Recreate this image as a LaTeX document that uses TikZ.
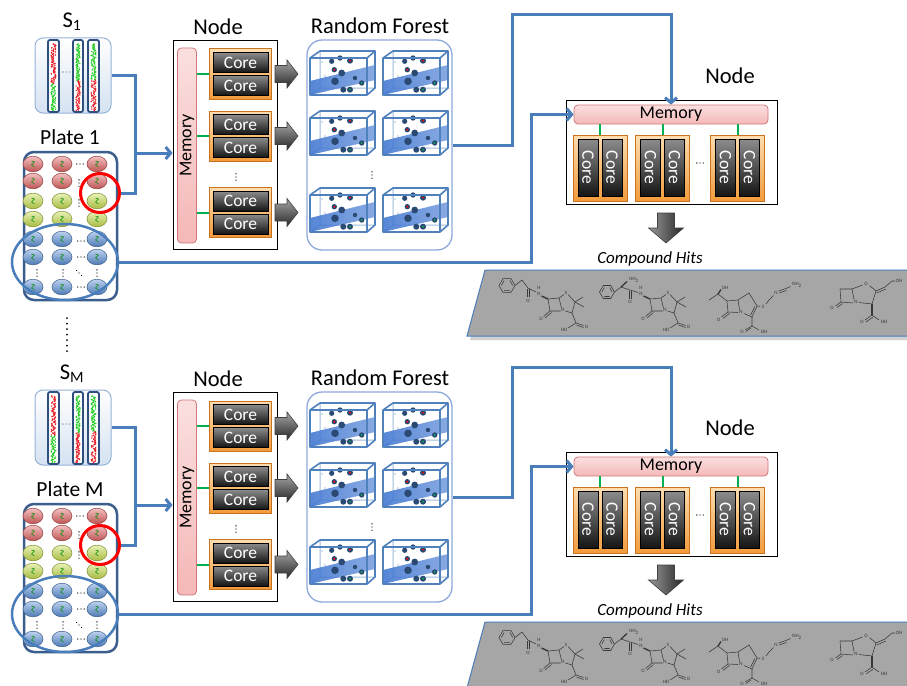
\documentclass[tikz,border=0pt]{standalone}
\usepackage{fontspec}
\setmainfont{Carlito}
\usetikzlibrary{shapes.geometric,arrows.meta}

\definecolor{linkblue}{HTML}{4A7EBB}
\definecolor{platecol}{HTML}{3B5E8C}
\definecolor{sfill}{HTML}{D5E2F2}
\definecolor{sdraw}{HTML}{95B3D7}
\definecolor{bardraw}{HTML}{2F4F7F}
\definecolor{dotred}{HTML}{E8202A}
\definecolor{dotgreen}{HTML}{22CC22}
\definecolor{memfill}{HTML}{F5B8B8}
\definecolor{memdraw}{HTML}{D07878}
\definecolor{orgtop}{HTML}{FCDDB0}
\definecolor{orgbot}{HTML}{F39B3C}
\definecolor{orgdraw}{HTML}{C8731F}
\definecolor{rfdraw}{HTML}{8EAADB}
\definecolor{cubeblue}{HTML}{4F81BD}
\definecolor{planeblue}{HTML}{3A72D0}
\definecolor{dotdark}{HTML}{2B4A73}
\definecolor{linkgreen}{HTML}{00B050}
\definecolor{stripgray}{HTML}{A6A6A6}
\definecolor{bondgray}{HTML}{383838}
\definecolor{wred}{HTML}{E06262}
\definecolor{wyel}{HTML}{C6DC4C}
\definecolor{wblu}{HTML}{5B8FD6}

\tikzset{
  lbl/.style={font=\fontsize{22.5}{24}\selectfont, inner sep=0},
  link/.style={draw=linkblue, line width=3pt},
  linkarrow/.style={link, -{Straight Barb[length=5pt,width=12pt]}},
  glink/.style={draw=linkgreen, line width=2pt},
  memnode/.style={draw=memdraw, line width=.8pt, top color=memfill!45!white, bottom color=memfill,
    rounded corners=4pt, font=\fontsize{18}{18}\selectfont, inner sep=0},
  cgroup/.style={draw=orgdraw, line width=1pt, top color=orgtop, bottom color=orgbot, inner sep=0},
  core/.style={draw=black, line width=.8pt, top color=black!45, bottom color=black!92, text=white,
    font=\fontsize{17.5}{17.5}\selectfont, minimum width=55, minimum height=20, inner sep=0},
  bond/.style={draw=bondgray, line width=.55pt},
  atom/.style={font=\fontsize{5}{5}\selectfont, text=bondgray, fill=stripgray, inner sep=.2pt},
  grayarrow/.pic={
    \shade[top color=black!35, bottom color=black!85, draw=black!75, line width=.6pt]
      (0,-8.5) -- (12,-8.5) -- (12,-14) -- (23,0) -- (12,14) -- (12,8.5) -- (0,8.5) -- cycle;},
  downarrow/.pic={
    \shade[left color=black!40, right color=black!85, draw=black!75, line width=.6pt]
      (-8.5,0) -- (8.5,0) -- (8.5,15) -- (17.5,15) -- (0,30) -- (-17.5,15) -- (-8.5,15) -- cycle;},
  rfcube/.pic={
    \begin{scope}[shift={(-31,-17)}]
      \draw[cubeblue!55, line width=1pt] (10,-7) rectangle (65,30) (0,37) -- (10,30);
      \fill[cubeblue!30] (15,18) circle (1.2pt) (60,10) circle (1.2pt) (12,4) circle (1.2pt) (61,17) circle (1.2pt);
      \shade[left color=planeblue, right color=planeblue!70, opacity=.85]
        (0,37) -- (0,23) -- (65,7) -- (65,22) -- cycle;
      \foreach \dx/\dy/\dr in {21.7/3.3/2.6, 30/0/2.7, 40/2.7/3, 24.3/11.7/2.7, 31.7/15/3.4,
          25/23.3/3.8, 33.3/31.7/3, 40/31.7/3, 51.7/25/2.7, 45/20/2.2}
        \fill[dotdark] (\dx,\dy) circle (\dr pt);
      \fill[red] (40,2.7) circle (1pt) (24.3,11.7) circle (1.1pt);
      \fill[linkgreen] (40,31.7) circle (1pt) (51.7,25) circle (1pt);
      \draw[cubeblue, line width=1.6pt, line join=round] (0,0) rectangle (57,37)
        (0,0) -- (10,-7) -- (65,-7) -- (65,30) -- (57,37) (57,0) -- (65,-7);
    \end{scope}}
}

% small dot groups
\newcommand\hdt[2]{\fill (#1-3.2,#2) circle (.7pt) (#1,#2) circle (.7pt) (#1+3.2,#2) circle (.7pt);}
\newcommand\vdt[2]{\fill (#1,#2-3.2) circle (.7pt) (#1,#2) circle (.7pt) (#1,#2+3.2) circle (.7pt);}
\newcommand\ddt[2]{\fill (#1-2.5,#2-2.5) circle (.6pt) (#1,#2) circle (.6pt) (#1+2.5,#2+2.5) circle (.6pt);}

% one glossy well of the plate
\newcommand\well[3]{%
  \shade[top color=#3!40!white, bottom color=#3!85!black, draw=#3!65!black, line width=.5pt]
    (#1,#2) ellipse [x radius=10pt, y radius=7.8pt];
  \draw[green!55!black, line width=.5pt] (#1-1.5,#2-3) -- (#1+1.5,#2-2) -- (#1-1.5,#2+1) -- (#1+1.5,#2+3);}

% hexagonal ring with alternating inner bonds
\newcommand\hexring[3]{%
  \draw[bond] (#1,#2) +(0:#3) -- +(60:#3) -- +(120:#3) -- +(180:#3) -- +(240:#3) -- +(300:#3) -- cycle;
  \draw[bond] (#1,#2) +(60:#3-2.3) -- +(120:#3-2.3) +(180:#3-2.3) -- +(240:#3-2.3) +(300:#3-2.3) -- +(0:#3-2.3);}

% penam core, from the amide N to the carboxyl group
\newcommand\penam[1]{%
  \node[atom] (#1n) at (539,293.5) {N};
  \node[atom] (#1h) at (539,288.3) {H};
  \draw[bond, line width=1.4pt] (541.5,296) -- (548,299);
  \draw[bond] (548,299) -- (559,298) -- (561.5,308) (560.5,311) -- (550,311) -- (548,299);
  \node[atom] (#1nr) at (563,310) {N};
  \draw[bond] (559,298) -- (564,294.5) (568,294.5) -- (575,302) -- (572,313) -- (565.5,311);
  \node[atom] (#1s) at (566,292.5) {S};
  \draw[bond] (575,302) -- (583,297) (575,302) -- (584,307);
  \draw[bond] (550,311) -- (543.5,316.5) (551.5,312.5) -- (545,318);
  \node[atom] (#1o) at (541,319) {O};
  \draw[bond] (572,313) -- (576,323) -- (583.5,325.5) (576.5,325) -- (583.5,327.5) (576,323) -- (568,328);
  \node[atom] (#1o2) at (586.5,327) {O};
  \node[atom] (#1ho) at (564,330) {HO};}

\newcommand\molecules[1]{%
  % benzylpenicillin
  \hexring{507}{285.5}{8}
  \draw[bond] (515,285.5) -- (522,280) -- (528,288) -- (536,292);
  \draw[bond] (527.2,288.5) -- (527.2,297) (529,289) -- (529,297);
  \node[atom] (ma#1) at (528,300.5) {O};
  \penam{pa#1}
  % ampicillin
  \hexring{607}{292}{7.5}
  \draw[bond] (614.5,292) -- (621,287) -- (630,290) -- (638,292.5);
  \draw[bond, line width=1.3pt] (621,287) -- (627,281.5);
  \node[atom] (mb#1) at (634,280) {NH\textsubscript{2}};
  \draw[bond] (629.2,290.5) -- (629.2,299) (631,291) -- (631,299);
  \node[atom] (mc#1) at (630,302) {O};
  \begin{scope}[shift={(102,0)}]\penam{pb#1}\end{scope}
  % imipenem
  \draw[bond] (709,300) -- (718,294) -- (727,301);
  \draw[bond, line width=1.3pt] (718,294) -- (721,289.5);
  \node[atom] (md#1) at (725,287.5) {OH};
  \draw[bond] (727,301) -- (738,300) -- (739.5,309.5) (738,312.5) -- (728,312) -- (727,301);
  \node[atom] (me#1) at (741,312) {N};
  \draw[bond] (728,312) -- (721.5,317) (729.5,313.5) -- (723,318.5);
  \node[atom] (mf#1) at (718.5,320) {O};
  \draw[bond] (738,300) -- (749,293) -- (757,306) -- (752,317) -- (744,313.5) (754.8,306.5) -- (750.6,315);
  \draw[bond] (757,306) -- (760,306.3) (766,304) -- (769,300) -- (773.5,295.5);
  \node[atom] (mg#1) at (763,306.5) {S};
  \node[atom] (mh#1) at (776,293) {N};
  \draw[bond] (778.5,291) -- (786,288.5) (779,293) -- (786.5,290.5) (786,288.5) -- (790.5,286.5);
  \node[atom] (mi#1) at (797,285) {NH\textsubscript{2}};
  \draw[bond] (752,317) -- (752,326) -- (745,330) (751,328) -- (745.8,331.6) (752,326) -- (759,330);
  \node[atom] (mj#1) at (742,332) {O};
  \node[atom] (mk#1) at (764,331.5) {OH};
  % clavulanic acid
  \draw[bond] (840,289) -- (852,289) -- (854,299.5) (853,303) -- (841,302) -- (840,289);
  \node[atom] (ml#1) at (856,302) {N};
  \draw[bond] (841,302) -- (835.5,306) (842.5,303.5) -- (837,307.5);
  \node[atom] (mm#1) at (832,308) {O};
  \draw[bond] (852,289) -- (862.5,285) (869.5,285.5) -- (876,291) -- (872,304) -- (859,302.5);
  \node[atom] (mn#1) at (866,284) {O};
  \draw[bond] (876,291) -- (885,287) (876.8,293) -- (885.8,289) (885,287) -- (892,281) -- (895,281);
  \node[atom] (mo#1) at (899,281) {OH};
  \draw[bond, line width=1.3pt] (872,304) -- (872,315);
  \draw[bond] (872,315) -- (865,320) (873,317) -- (866,322) (872,315) -- (879,320);
  \node[atom] (mp#1) at (862,322) {O};
  \node[atom] (mq#1) at (884,321.5) {OH};}

% one complete screening row: samples, plate, two compute nodes, hits
\newcommand\panel[4]{%
\begin{scope}[shift={(0,#2)}]
  % sample strips
  \node[lbl] (sl#1) at (72,22) {#3};
  \node[draw=sdraw, line width=1pt, rounded corners=8pt, top color=white, bottom color=sfill,
        minimum width=76, minimum height=75, inner sep=0] (sb#1) at (73,75.5) {};
  \foreach \cx/\ww in {53.5/11,78/10,93.5/11}
    \draw[bardraw, line width=1.8pt, fill=white, rounded corners=2pt] (\cx-\ww/2,40) rectangle (\cx+\ww/2,112);
  \foreach \i in {0,...,66}{
    \pgfmathsetmacro\xa{53.5+2.3*rand}\pgfmathsetmacro\xb{53.5+2.3*rand}
    \pgfmathsetmacro\xc{78+2*rand}\pgfmathsetmacro\xd{78+2*rand}
    \pgfmathsetmacro\xe{93.5+2.3*rand}\pgfmathsetmacro\xf{93.5+2.3*rand}
    \ifnum\i<40 \def\ca{dotred}\else\def\ca{dotgreen}\fi
    \ifnum\i<37 \def\cb{dotgreen}\else\def\cb{dotred}\fi
    \ifnum\i<36 \def\cc{dotgreen}\else\def\cc{dotred}\fi
    \fill[\ca] (\xa,44+\i) circle (.8pt) (\xb,44.5+\i) circle (.8pt);
    \fill[\cb] (\xc,44+\i) circle (.8pt) (\xd,44.5+\i) circle (.8pt);
    \fill[\cc] (\xe,44+\i) circle (.8pt) (\xf,44.5+\i) circle (.8pt);
  }
  \begin{scope}[black!60]\hdt{66}{72}\end{scope}
  % plate
  \node[lbl, font=\fontsize{21.5}{22}\selectfont] (pl#1) at (70,137) {#4};
  \node[draw=platecol, line width=2.5pt, rounded corners=10pt, fill=white,
        minimum width=93, minimum height=148, inner sep=0] (pb#1) at (70.5,226) {};
  \foreach \wy/\wc in {164/wred,181/wred,201/wyel,219/wyel,239/wblu,257/wblu,287/wblu}
    \foreach \wx in {33,62,97} {\well{\wx}{\wy}{\wc}}
  \hdt{80}{164} \vdt{79}{183} \vdt{79}{203} \hdt{81}{241} \hdt{81}{257} \hdt{81}{287}
  \vdt{37}{273} \vdt{63}{273} \vdt{97}{273} \ddt{79}{273}
  \node[circle, draw=red, line width=3pt, minimum size=39, inner sep=0] (rc#1) at (100,193) {};
  \node[ellipse, draw=linkblue, line width=2.5pt, minimum width=106, minimum height=76, inner sep=0] (be#1) at (65,262) {};
  % first compute node
  \node[lbl] (nl#1) at (218,27) {Node};
  \node[draw=black, line width=.8pt, fill=white, minimum width=104, minimum height=209, inner sep=0] (nb#1) at (225,144.5) {};
  \node[memnode, minimum width=19, minimum height=195] (ml#1) at (187,145.5) {};
  \node[rotate=90, font=\fontsize{18}{18}\selectfont, inner sep=0] (mt#1) at (ml#1) {Memory};
  \foreach \g/\gy in {a/74,b/136,c/212.5}{
    \node[cgroup, minimum width=62, minimum height=50] (g\g#1) at (240,\gy) {};
    \node[core] (c\g1#1) at (240.5,\gy-11.5) {Core};
    \node[core] (c\g2#1) at (240.5,\gy+11.5) {Core};
    \draw[glink] (ml#1.east |- g\g#1.west) -- (g\g#1.west);
    \pic at (275,\gy) {grayarrow};
  }
  \vdt{236}{177}
  % random forest
  \node[lbl] (rl#1) at (380,26) {Random Forest};
  \node[draw=rfdraw, line width=1.3pt, rounded corners=15pt, fill=white,
        minimum width=145, minimum height=210, inner sep=0] (rf#1) at (379.5,145) {};
  \foreach \px in {341,414} \foreach \py in {75,135,212} \pic at (\px,\py) {rfcube};
  \vdt{372}{175}
  % second compute node
  \node[lbl] (nr#1) at (730,76) {Node};
  \node[draw=black, line width=.8pt, fill=white, minimum width=211, minimum height=104, inner sep=0] (nbr#1) at (671.5,152) {};
  \node[memnode, minimum width=194, minimum height=19] (mr#1) at (671,114.5) {Memory};
  \foreach \g/\gx in {a/600,b/662.5,c/737.5}{
    \node[cgroup, minimum width=54, minimum height=66] (h\g#1) at (\gx,168) {};
    \node[core, rotate=-90, minimum width=57, minimum height=20] (d\g1#1) at (\gx-12,167.5) {Core};
    \node[core, rotate=-90, minimum width=57, minimum height=20] (d\g2#1) at (\gx+12,167.5) {Core};
    \draw[glink] (h\g#1.north) -- (h\g#1.north |- mr#1.south);
  }
  \hdt{700}{163}
  \pic at (666,213) {downarrow};
  \node[font=\fontsize{17}{18}\selectfont\itshape, inner sep=0] (ch#1) at (650,259) {Compound Hits};
  % hit compounds
  \fill[black, opacity=.18] (470,340) -- (488,274) -- (920,274) -- (920,340) -- cycle;
  \draw[linkblue, line width=1pt, fill=stripgray] (467,336) -- (485,270) -- (915,270) -- (915,336) -- cycle;
  \molecules{#1}
  % connectors
  \coordinate (j#1) at (135,153);
  \coordinate (k#1) at (531,0);
  \coordinate (q#1) at (512,15);
  \draw[link] (sb#1.east) -| (j#1) |- (rc#1.east);
  \draw[linkarrow] (j#1) -- (j#1 -| nb#1.west);
  \draw[linkarrow] (be#1.east) -| (k#1 |- mr#1.west) -- (mr#1.west);
  \draw[linkarrow] (rf#1.east) -| (q#1) -| (mr#1.north);
\end{scope}}

\begin{document}
\begin{tikzpicture}[x=1pt, y=-1pt]
  \useasboundingbox (0,0) rectangle (907,685);
  \clip (0,0) rectangle (907,685);
  \fill[white] (0,0) rectangle (907,685);
  \pgfmathsetseed{7}
  \panel{T}{0}{S\textsubscript{1}}{Plate 1}
  \foreach \yy in {318,323.5,...,353} \fill (67,\yy) circle (1pt);
  \panel{B}{352}{S\textsubscript{M}}{Plate M}
\end{tikzpicture}
\end{document}
